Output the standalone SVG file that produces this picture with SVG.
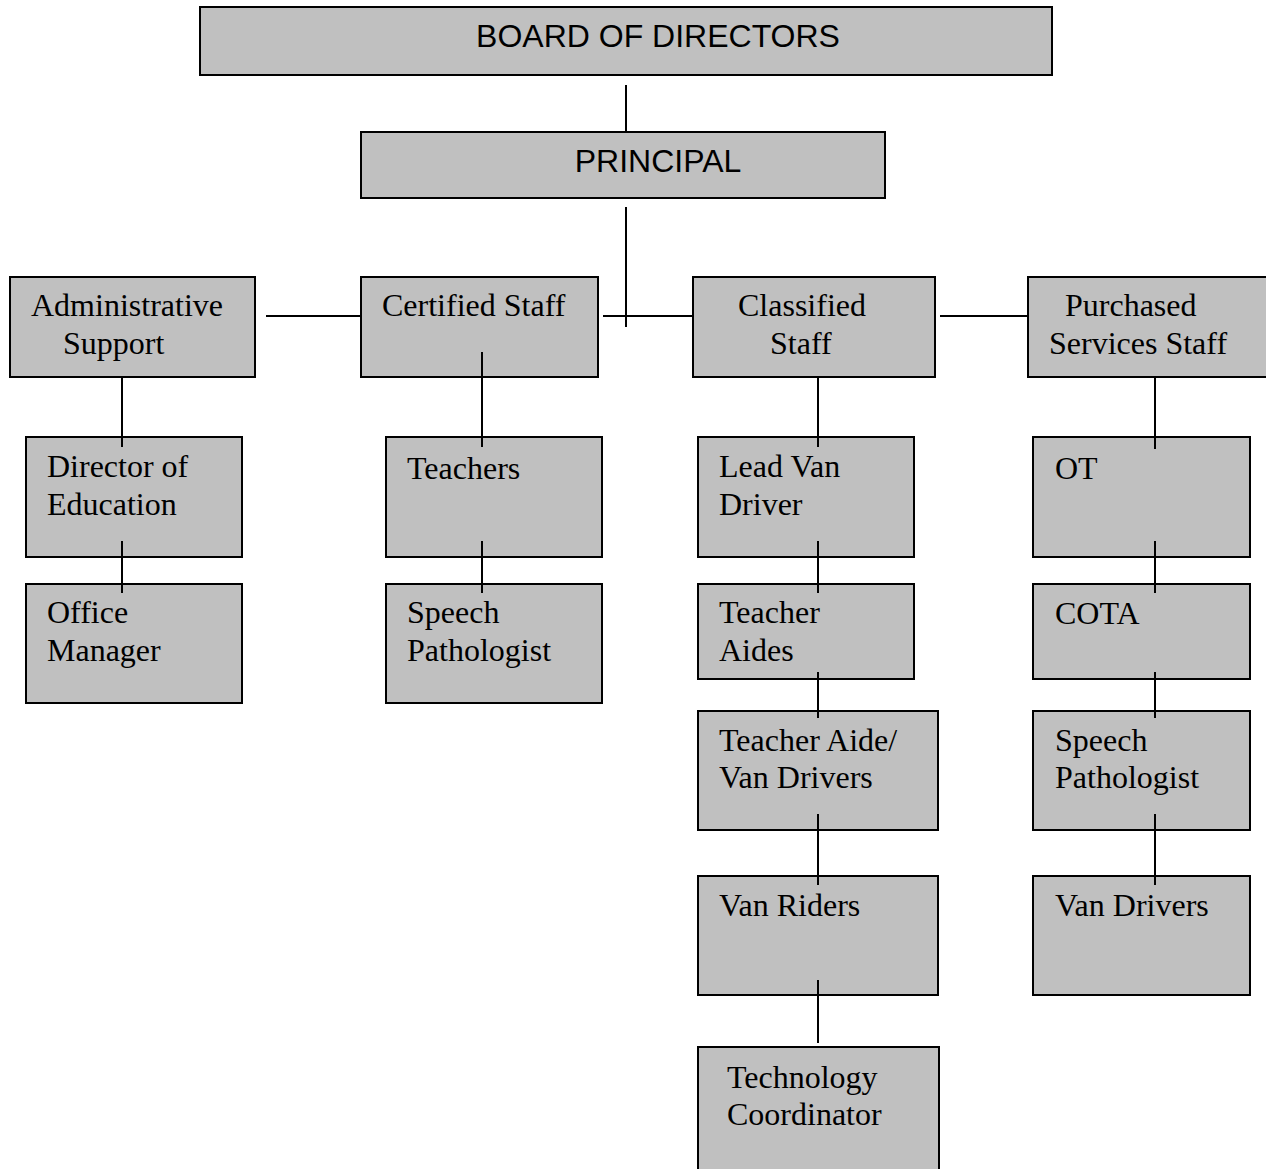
<svg xmlns="http://www.w3.org/2000/svg" width="1266" height="1169" viewBox="0 0 1266 1169">
<style>
rect{fill:#c0c0c0;stroke:#000;stroke-width:2}
.c line{stroke:#000;stroke-width:2}
text{font-family:"Liberation Serif","Times New Roman",serif;font-size:32px;fill:#000}
text.s{font-family:"Liberation Sans",Arial,sans-serif;font-size:32px}
</style>
<rect x="0" y="0" width="1266" height="1169" style="fill:#fff;stroke:none"/>
<g id="board"><rect x="200" y="7" width="852" height="68"/><text class="s" x="658" y="47" text-anchor="middle">BOARD OF DIRECTORS</text></g>
<g id="principal"><rect x="361" y="132" width="524" height="66"/><text class="s" x="658" y="172" text-anchor="middle">PRINCIPAL</text></g>
<g id="admin"><rect x="10" y="277" width="245" height="100"/><text x="31" y="316">Administrative</text><text x="63" y="354">Support</text></g>
<g id="certified"><rect x="361" y="277" width="237" height="100"/><text x="382" y="316">Certified Staff</text></g>
<g id="classified"><rect x="693" y="277" width="242" height="100"/><text x="738" y="316">Classified</text><text x="770" y="354">Staff</text></g>
<g id="purchased"><rect x="1028" y="277" width="245" height="100"/><text x="1065" y="316">Purchased</text><text x="1049" y="354">Services Staff</text></g>
<g id="director"><rect x="26" y="437" width="216" height="120"/><text x="47" y="477">Director of</text><text x="47" y="515">Education</text></g>
<g id="office"><rect x="26" y="584" width="216" height="119"/><text x="47" y="623">Office</text><text x="47" y="661">Manager</text></g>
<g id="teachers"><rect x="386" y="437" width="216" height="120"/><text x="407" y="479">Teachers</text></g>
<g id="speech1"><rect x="386" y="584" width="216" height="119"/><text x="407" y="623">Speech</text><text x="407" y="661">Pathologist</text></g>
<g id="leadvan"><rect x="698" y="437" width="216" height="120"/><text x="719" y="477">Lead Van</text><text x="719" y="515">Driver</text></g>
<g id="aides"><rect x="698" y="584" width="216" height="95"/><text x="719" y="623">Teacher</text><text x="719" y="661">Aides</text></g>
<g id="aidevan"><rect x="698" y="711" width="240" height="119"/><text x="719" y="751">Teacher Aide/</text><text x="719" y="788">Van Drivers</text></g>
<g id="vanriders"><rect x="698" y="876" width="240" height="119"/><text x="719" y="916">Van Riders</text></g>
<g id="tech"><rect x="698" y="1047" width="241" height="140"/><text x="727" y="1088">Technology</text><text x="727" y="1125">Coordinator</text></g>
<g id="ot"><rect x="1033" y="437" width="217" height="120"/><text x="1055" y="479">OT</text></g>
<g id="cota"><rect x="1033" y="584" width="217" height="95"/><text x="1055" y="624">COTA</text></g>
<g id="speech2"><rect x="1033" y="711" width="217" height="119"/><text x="1055" y="751">Speech</text><text x="1055" y="788">Pathologist</text></g>
<g id="vandrivers"><rect x="1033" y="876" width="217" height="119"/><text x="1055" y="916">Van Drivers</text></g>
<g class="c" id="connectors">
<line x1="626" y1="85" x2="626" y2="132"/>
<line x1="626" y1="207" x2="626" y2="327"/>
<line x1="266" y1="316" x2="361" y2="316"/>
<line x1="603" y1="316" x2="693" y2="316"/>
<line x1="940" y1="316" x2="1028" y2="316"/>
<line x1="122" y1="377" x2="122" y2="447"/>
<line x1="482" y1="352" x2="482" y2="447"/>
<line x1="818" y1="377" x2="818" y2="447"/>
<line x1="1155" y1="377" x2="1155" y2="449"/>
<line x1="122" y1="541" x2="122" y2="593"/>
<line x1="482" y1="541" x2="482" y2="593"/>
<line x1="818" y1="541" x2="818" y2="593"/>
<line x1="1155" y1="541" x2="1155" y2="593"/>
<line x1="818" y1="672" x2="818" y2="718"/>
<line x1="1155" y1="672" x2="1155" y2="718"/>
<line x1="818" y1="814" x2="818" y2="885"/>
<line x1="1155" y1="814" x2="1155" y2="885"/>
<line x1="818" y1="980" x2="818" y2="1043"/>
</g>
</svg>
